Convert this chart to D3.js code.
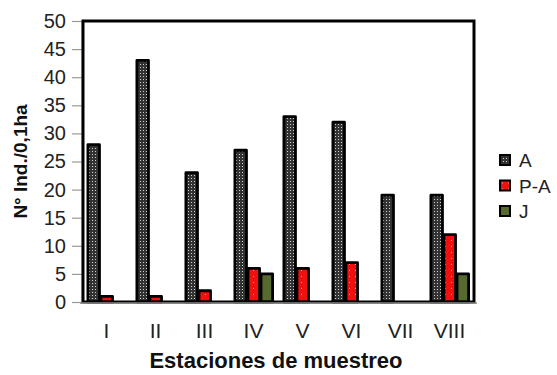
<!DOCTYPE html>
<html>
<head>
<meta charset="utf-8">
<script src="https://cdn.jsdelivr.net/npm/d3@7"></script>
<style>
  body { margin: 0; background: #fff; }
  text { font-family: Arial, "Liberation Sans", sans-serif; }
</style>
</head>
<body>
<div id="chart"></div>
<script>
// data
const stations = ["I", "II", "III", "IV", "V", "VI", "VII", "VIII"];
const seriesNames = ["A", "P-A", "J"];
const valuesA = [28, 43, 23, 27, 33, 32, 19, 19];
const valuesPA = [1, 1, 2, 6, 6, 7, 0, 12];
const valuesJ = [0, 0, 0, 5, 0, 0, 0, 5];
const yTicks = [0, 5, 10, 15, 20, 25, 30, 35, 40, 45, 50];

const allSeries = [valuesA, valuesPA, valuesJ];

const W = 557, H = 375;
const margin = {top: 21, right: 83, bottom: 73, left: 82};
const width = W - margin.left - margin.right,
      height = H - margin.top - margin.bottom;

const svg = d3.select("#chart").append("svg")
    .attr("width", W).attr("height", H);

// patterns for the bars
const defs = svg.append("defs");
const pA = defs.append("pattern").attr("id", "patA")
    .attr("patternUnits", "userSpaceOnUse").attr("width", 3).attr("height", 3);
pA.append("rect").attr("width", 3).attr("height", 3).attr("fill", "#333");
pA.append("rect").attr("x", 1).attr("y", 1).attr("width", 1).attr("height", 1).attr("fill", "#d0d0d0");

const pPA = defs.append("pattern").attr("id", "patPA")
    .attr("patternUnits", "userSpaceOnUse").attr("width", 6).attr("height", 6);
pPA.append("rect").attr("width", 6).attr("height", 6).attr("fill", "#f01010");
pPA.append("rect").attr("x", 3).attr("y", 3).attr("width", 1).attr("height", 1).attr("fill", "#ff9a9a");

const fills = ["url(#patA)", "url(#patPA)", "#56692e"];

const g = svg.append("g")
    .attr("transform", "translate(" + margin.left + "," + margin.top + ")");

const x = d3.scaleBand().domain(stations).range([0, width]).paddingInner(0.2).paddingOuter(0.1);
const xs = d3.scaleBand().domain(seriesNames).range([0, x.bandwidth()]);
const y = d3.scaleLinear().domain([0, 50]).range([height, 0]);

// y axis
const yAxis = g.append("g")
    .call(d3.axisLeft(y).tickValues(yTicks).tickSize(10).tickSizeOuter(0));
yAxis.select(".domain").attr("stroke", "#888").attr("stroke-width", 1.5);
yAxis.selectAll(".tick line").attr("stroke", "#999").attr("stroke-width", 1.2);
yAxis.selectAll(".tick text").attr("font-size", 20).attr("fill", "#222").attr("x", -16);

// bars
stations.forEach(function(s, i) {
    allSeries.forEach(function(vals, k) {
        const v = vals[i];
        if (v <= 0) return;
        g.append("rect")
            .attr("x", x(s) + xs(seriesNames[k]) + 1)
            .attr("y", y(v))
            .attr("width", xs.bandwidth() - 1.5)
            .attr("height", y(0) - y(v))
            .attr("fill", fills[k])
            .attr("stroke", "#000")
            .attr("stroke-width", 2.8)
            .attr("stroke-linejoin", "round");
    });
});

// plot frame
g.append("rect")
    .attr("x", 1).attr("y", 0).attr("width", width - 1).attr("height", height)
    .attr("fill", "none").attr("stroke", "#000").attr("stroke-width", 3);

// x axis
const xAxis = g.append("g")
    .attr("transform", "translate(0," + height + ")")
    .call(d3.axisBottom(x).tickSize(0));
xAxis.select(".domain").attr("stroke", "#888").attr("stroke-width", 1.5)
    .attr("d", "M-2,1H" + (width + 3));
xAxis.selectAll(".tick text").attr("font-size", 21).attr("fill", "#222").attr("dy", "0.71em")
    .attr("y", 21);

// axis titles
svg.append("text")
    .attr("x", margin.left + width / 2 - 2).attr("y", 368)
    .attr("text-anchor", "middle").attr("font-size", 22).attr("font-weight", "bold")
    .attr("fill", "#111")
    .text("Estaciones de muestreo");

svg.append("text")
    .attr("transform", "translate(27," + (margin.top + height / 2) + ") rotate(-90)")
    .attr("text-anchor", "middle").attr("font-size", 19).attr("font-weight", "bold")
    .attr("fill", "#111")
    .text("N° Ind./0,1ha");

// legend
const legend = svg.append("g").attr("transform", "translate(499,154)");
seriesNames.forEach(function(n, k) {
    const row = legend.append("g").attr("transform", "translate(0," + (k * 25.5) + ")");
    row.append("rect").attr("x", 1).attr("y", 1).attr("width", 10).attr("height", 10)
        .attr("fill", fills[k]).attr("stroke", "#000").attr("stroke-width", 2);
    row.append("text").attr("x", 20).attr("y", 13).attr("font-size", 19).attr("fill", "#222")
        .text(n);
});
</script>
</body>
</html>
